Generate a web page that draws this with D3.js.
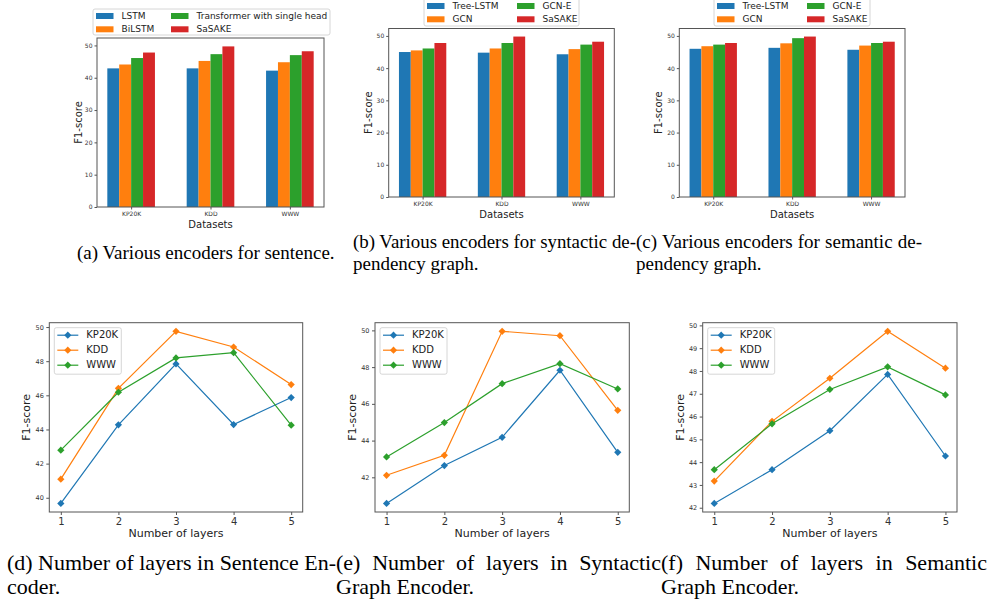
<!DOCTYPE html>
<html>
<head>
<meta charset="utf-8">
<script src="https://cdn.jsdelivr.net/npm/d3@7"></script>
<style>
  body { margin: 0; background: #fff; }
  svg { display: block; }
  .tick text { font-family: "DejaVu Sans", sans-serif; fill: #333; }
</style>
</head>
<body>
<svg id="fig"></svg>
<script>
// data
const datasets = ["KP20K", "KDD", "WWW"];
const sentEncoders = ["LSTM", "BiLSTM", "Transformer with single head", "SaSAKE"];
const graphEncoders = ["Tree-LSTM", "GCN", "GCN-E", "SaSAKE"];
// one row per encoder, one value per dataset
const sentScores = [[42.9, 42.9, 42.2], [44.1, 45.2, 44.8], [46.1, 47.3, 47.0], [47.8, 49.7, 48.2]];
const synScores  = [[45.0, 44.8, 44.3], [45.5, 46.1, 45.9], [46.1, 47.8, 47.3], [47.8, 49.8, 48.2]];
const semScores  = [[46.0, 46.3, 45.7], [46.8, 47.7, 47.0], [47.3, 49.3, 47.8], [47.8, 49.8, 48.2]];
const barTicks = [0, 10, 20, 30, 40, 50];

const layers = [1, 2, 3, 4, 5];
// one row per dataset, one value per layer count
const sentLayerScores = [[39.67, 44.27, 47.84, 44.29, 45.87], [41.09, 46.41, 49.75, 48.83, 46.63], [42.79, 46.18, 48.19, 48.5, 44.25]];
const synLayerScores  = [[40.58, 42.64, 44.18, 47.83, 43.36], [42.11, 43.2, 49.95, 49.71, 45.65], [43.11, 44.98, 47.1, 48.19, 46.81]];
const semLayerScores  = [[42.19, 43.67, 45.38, 47.85, 44.27], [43.17, 45.79, 47.68, 49.74, 48.12], [43.67, 45.68, 47.19, 48.18, 46.95]];
const sentLayerTicks = [40, 42, 44, 46, 48, 50];
const synLayerTicks = [42, 44, 46, 48, 50];
const semLayerTicks = [42, 43, 44, 45, 46, 47, 48, 49, 50];

const colors = ["#1f77b4", "#ff7f0e", "#2ca02c", "#d62728"];

const W = 991, H = 599;
const svg = d3.select("#fig").attr("width", W).attr("height", H);
svg.append("rect").attr("width", W).attr("height", H).attr("fill", "#fff");

function frame(g, x0, x1, y0, y1) {
  g.append("rect")
    .attr("x", x0).attr("y", y0).attr("width", x1 - x0).attr("height", y1 - y0)
    .attr("fill", "none").attr("stroke", "#555").attr("stroke-width", 1);
}

function styleAxis(sel, size) {
  sel.select(".domain").remove();
  sel.selectAll(".tick line").attr("stroke", "#555");
  sel.selectAll(".tick text").attr("font-size", size);
}

function barPanel(b) {
  const g = svg.append("g");
  const x = d3.scaleLinear().domain([-0.43, 2.43]).range([b.x0, b.x1]);
  const y = d3.scaleLinear().domain([0, 52.3]).range([b.y1, b.y0]);
  const bw = 0.15;

  b.values.forEach((row, s) => {
    g.selectAll(null).data(row).enter().append("rect")
      .attr("x", (d, i) => x(i + (s - 2) * bw))
      .attr("width", x(bw) - x(0))
      .attr("y", d => y(d))
      .attr("height", d => y(0) - y(d))
      .attr("fill", colors[s]);
  });

  g.append("g").attr("transform", `translate(${b.x0},0)`)
    .call(d3.axisLeft(y).tickValues(barTicks).tickSize(2.5).tickPadding(2))
    .call(s => styleAxis(s, "6px"));
  g.append("g").attr("transform", `translate(0,${b.y1})`)
    .call(d3.axisBottom(x).tickValues([0, 1, 2]).tickFormat(i => datasets[i]).tickSize(2.5).tickPadding(2))
    .call(s => styleAxis(s, "6px"));
  frame(g, b.x0, b.x1, b.y0, b.y1);

  g.append("text").attr("x", (b.x0 + b.x1) / 2).attr("y", b.y1 + 21)
    .attr("text-anchor", "middle").attr("font-family", "DejaVu Sans").attr("font-size", "10px")
    .attr("fill", "#222").text("Datasets");
  g.append("text").attr("transform", `translate(${b.x0 - b.labOff},${(b.y0 + b.y1) / 2}) rotate(-90)`)
    .attr("text-anchor", "middle").attr("dominant-baseline", "middle")
    .attr("font-family", "DejaVu Sans").attr("font-size", "10px").attr("fill", "#222").text("F1-score");

  // legend, two columns filled top-down
  const L = b.legend;
  g.append("rect").attr("x", L.x).attr("y", L.y).attr("width", L.w).attr("height", L.h)
    .attr("rx", 2).attr("fill", "#fff").attr("stroke", "#ccc").attr("stroke-width", 0.8);
  b.names.forEach((n, i) => {
    const col = Math.floor(i / 2), row = i % 2;
    const px = L.x + 3 + col * L.col2, py = L.row0 + row * 13.3;
    g.append("rect").attr("x", px).attr("y", py - 3).attr("width", 17.5).attr("height", 6).attr("fill", colors[i]);
    g.append("text").attr("x", px + 25.5).attr("y", py).attr("dominant-baseline", "middle")
      .attr("font-family", "DejaVu Sans").attr("font-size", "9px").attr("fill", "#222").text(n);
  });
}

function linePanel(p) {
  const g = svg.append("g");
  const x = d3.scaleLinear().domain([0.8, 5.2]).range([p.x0, p.x1]);
  const all = p.values.flat();
  const [lo, hi] = d3.extent(all);
  const m = (hi - lo) * 0.05;
  const y = d3.scaleLinear().domain([lo - m, hi + m]).range([p.y1, p.y0]);

  g.append("g").attr("transform", `translate(${p.x0},0)`)
    .call(d3.axisLeft(y).tickValues(p.ticks).tickSize(3).tickPadding(2.5))
    .call(s => styleAxis(s, "6.5px"));
  g.append("g").attr("transform", `translate(0,${p.y1})`)
    .call(d3.axisBottom(x).tickValues(layers).tickFormat(d3.format("d")).tickSize(3).tickPadding(2.5))
    .call(s => styleAxis(s, "10px"));

  const line = d3.line().x((d, i) => x(layers[i])).y(d => y(d));
  const diamond = d3.symbol(d3.symbolSquare, 26);
  p.values.forEach((row, s) => {
    g.append("path").attr("d", line(row)).attr("fill", "none")
      .attr("stroke", colors[s]).attr("stroke-width", 1.2);
    g.selectAll(null).data(row).enter().append("path")
      .attr("d", diamond)
      .attr("transform", (d, i) => `translate(${x(layers[i])},${y(d)}) rotate(45)`)
      .attr("fill", colors[s]);
  });
  frame(g, p.x0, p.x1, p.y0, p.y1);

  g.append("text").attr("x", (p.x0 + p.x1) / 2).attr("y", p.y1 + 25)
    .attr("text-anchor", "middle").attr("font-family", "DejaVu Sans").attr("font-size", "11px")
    .attr("fill", "#222").text("Number of layers");
  g.append("text").attr("transform", `translate(${p.x0 - 22},${(p.y0 + p.y1) / 2}) rotate(-90)`)
    .attr("text-anchor", "middle").attr("dominant-baseline", "middle")
    .attr("font-family", "DejaVu Sans").attr("font-size", "11px").attr("fill", "#222").text("F1-score");

  const lx = p.x0 + 5, ly = p.y0 + 5;
  g.append("rect").attr("x", lx).attr("y", ly).attr("width", 67).attr("height", 46.5)
    .attr("rx", 2).attr("fill", "#fff").attr("stroke", "#ccc").attr("stroke-width", 0.8);
  datasets.forEach((n, i) => {
    const cy = ly + 7.5 + i * 15;
    g.append("line").attr("x1", lx + 3).attr("x2", lx + 24).attr("y1", cy).attr("y2", cy)
      .attr("stroke", colors[i]).attr("stroke-width", 1.2);
    g.append("path").attr("d", diamond).attr("transform", `translate(${lx + 13.5},${cy}) rotate(45)`)
      .attr("fill", colors[i]);
    g.append("text").attr("x", lx + 32).attr("y", cy).attr("dominant-baseline", "middle")
      .attr("font-family", "DejaVu Sans").attr("font-size", "10px").attr("fill", "#222").text(n);
  });
}

barPanel({ x0: 97, x1: 324, y0: 38, y1: 207, labOff: 18, names: sentEncoders, values: sentScores,
  legend: { x: 93, y: 9, w: 237, h: 26, row0: 16, col2: 75 } });
barPanel({ x0: 388.7, x1: 614.3, y0: 28.5, y1: 197, labOff: 20, names: graphEncoders, values: synScores,
  legend: { x: 424, y: -4, w: 155, h: 30, row0: 6, col2: 90 } });
barPanel({ x0: 679.3, x1: 905, y0: 28.5, y1: 197, labOff: 20, names: graphEncoders, values: semScores,
  legend: { x: 714, y: -4, w: 156, h: 30, row0: 6, col2: 90 } });

linePanel({ x0: 49.3, x1: 302.7, y0: 322.7, y1: 512, values: sentLayerScores, ticks: sentLayerTicks });
linePanel({ x0: 375, x1: 629.3, y0: 322.7, y1: 512, values: synLayerScores, ticks: synLayerTicks });
linePanel({ x0: 702.7, x1: 957, y0: 322.7, y1: 512, values: semLayerScores, ticks: semLayerTicks });

// sub-captions; justified lines get extra word spacing to reach their width
const captions = [
  { x: 77, y: 259, fs: 19, t: "(a) Various encoders for sentence." },
  { x: 353, y: 248, fs: 19, w: 283, t: "(b) Various encoders for syntactic de-" },
  { x: 636, y: 248, fs: 19, w: 286, t: "(c) Various encoders for semantic de-" },
  { x: 353, y: 270, fs: 19, t: "pendency graph." },
  { x: 636, y: 270, fs: 19, t: "pendency graph." },
  { x: 7, y: 570, fs: 22, w: 329, t: "(d) Number of layers in Sentence En-" },
  { x: 336, y: 570, fs: 22, w: 325, t: "(e) Number of layers in Syntactic" },
  { x: 661, y: 570, fs: 22, w: 326, t: "(f) Number of layers in Semantic" },
  { x: 7, y: 594, fs: 22, t: "coder." },
  { x: 336, y: 594, fs: 22, t: "Graph Encoder." },
  { x: 661, y: 594, fs: 22, t: "Graph Encoder." }
];
captions.forEach(c => {
  const t = svg.append("text").attr("x", c.x).attr("y", c.y)
    .attr("font-family", "Liberation Serif, serif").attr("font-size", c.fs + "px").attr("fill", "#000")
    .text(c.t);
  if (c.w) {
    const natural = t.node().getComputedTextLength();
    const gaps = c.t.split(" ").length - 1;
    if (natural < c.w) {
      t.attr("word-spacing", (c.w - natural) / gaps);
    } else {
      t.attr("textLength", c.w).attr("lengthAdjust", "spacingAndGlyphs");
    }
  }
});
</script>
</body>
</html>
